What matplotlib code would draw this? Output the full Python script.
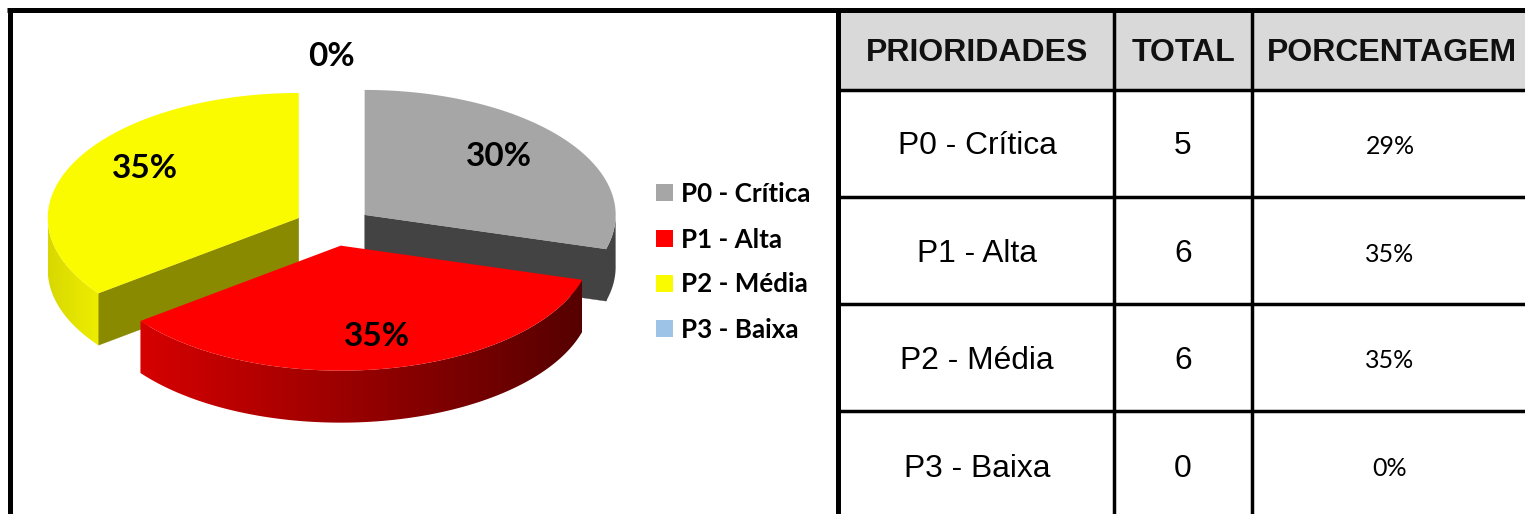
import numpy as np
import matplotlib
matplotlib.use("Agg")
import matplotlib.pyplot as plt
from matplotlib.colors import to_rgb
from matplotlib.patches import Polygon, Rectangle

priorities = ["P0 - Crítica", "P1 - Alta", "P2 - Média", "P3 - Baixa"]
totals = [5, 6, 6, 0]
chart_labels = ["30%", "35%", "35%", "0%"]
table_pct = ["29%", "35%", "35%", "0%"]
colors = ["#a6a6a6", "#ff0000", "#fbfb00", "#9dc3e6"]
face_colors = ["#434343", "#5a0000", "#8a8a00", "#9dc3e6"]
rim_left = ["#434343", "#d60000", "#d8d800", "#9dc3e6"]
rim_right = ["#434343", "#560000", "#eeee00", "#9dc3e6"]
headers = ["PRIORIDADES", "TOTAL", "PORCENTAGEM"]

W, H = 1525, 514
CX, CY, RX, RY, DEPTH, EXPLODE = 333.6, 226.6, 251, 125, 52, 0.155
LABEL_POS = [(499, 157), (377, 337), (145, 169), (331, 57)]

fig = plt.figure(figsize=(W / 100, H / 100), dpi=100, facecolor="white")
ax = fig.add_axes([0, 0, 1, 1])


def pt(cx, cy, deg):
    t = np.radians(deg)
    return cx + RX * np.sin(t), cy - RY * np.cos(t)


angles = 360 * np.cumsum([0] + totals) / sum(totals)
for i in [0, 2, 1]:
    a0, a1 = angles[i], angles[i + 1]
    mid = np.radians((a0 + a1) / 2)
    cx = CX + EXPLODE * RX * np.sin(mid)
    cy = CY - EXPLODE * RY * np.cos(mid)
    # only the cut faces turned towards the viewer are drawn
    visible = []
    if np.sin(np.radians(a1)) > 1e-6:
        visible.append(a1)
    if np.sin(np.radians(a0)) < -1e-6:
        visible.append(a0)
    for d in visible:
        p = pt(cx, cy, d)
        ax.add_patch(Polygon([(cx, cy), p, (p[0], p[1] + DEPTH), (cx, cy + DEPTH)],
                             closed=True, fc=face_colors[i], ec=face_colors[i], lw=0.2, zorder=2))
        ax.plot([p[0], p[0]], [p[1] + 1, p[1] + DEPTH - 1], color=face_colors[i], lw=0.8,
                solid_capstyle="butt", zorder=2)
    th = np.linspace(a0, a1, 240)
    arc = np.array([pt(cx, cy, d) for d in th])
    front = np.array([pt(cx, cy, d) for d in th if np.cos(np.radians(d)) <= 0.02])
    xmin, xmax = front[:, 0].min(), front[:, 0].max()
    rim = Polygon(np.vstack([front, front[::-1] + [0, DEPTH]]), closed=True,
                  transform=ax.transData, fc="none", ec="none")
    ax.add_patch(rim)
    c0, c1 = np.array(to_rgb(rim_left[i])), np.array(to_rgb(rim_right[i]))
    ramp = (c0 + (c1 - c0) * np.linspace(0, 1, 256)[:, None])[None, :, :]
    im = ax.imshow(ramp, extent=(xmin, xmax, H, 0), aspect="auto", interpolation="bilinear", zorder=3)
    im.set_clip_path(rim)
    ax.add_patch(Polygon(np.vstack([[cx, cy], arc]), closed=True, fc=colors[i], ec="none", zorder=4))

ax.set_xlim(0, W)
ax.set_ylim(H, 0)
ax.axis("off")

for lab, (x, y) in zip(chart_labels, LABEL_POS):
    ax.text(x, y, lab, family="Lato", weight="bold", fontsize=24, ha="center", va="center", zorder=6)

for i, (name, y) in enumerate(zip(priorities, [192.5, 238.5, 283.5, 328.5])):
    ax.add_patch(Rectangle((656, y - 8.5), 17, 17, fc=colors[i], ec="none"))
    ax.text(681, y + 1, name, family="Lato", weight="bold", fontsize=18.7, ha="left", va="center")

# table
col_x = [838, 1114, 1252, W]
row_y = [10, 90, 197, 304, 411, H]
ax.add_patch(Rectangle((col_x[0], row_y[0]), W - col_x[0], row_y[1] - row_y[0], fc="#d9d9d9", ec="none", zorder=1))
ax.plot([7, W], [10.4, 10.4], color="k", lw=3.6, solid_capstyle="butt", zorder=8)
ax.plot([9.5, 9.5], [8, H], color="k", lw=3.6, solid_capstyle="butt", zorder=8)
ax.plot([838, 838], [8, H], color="k", lw=3.6, solid_capstyle="butt", zorder=8)
for x in col_x[1:3]:
    ax.plot([x, x], [10, H], color="k", lw=2.5, solid_capstyle="butt", zorder=8)
for y in row_y[1:5]:
    ax.plot([838, W], [y, y], color="k", lw=2.5, solid_capstyle="butt", zorder=8)

for h, x in zip(headers, [977, 1184, 1392]):
    ax.text(x, 53, h, family="Liberation Sans", weight="bold", fontsize=23, ha="center", va="center", color="#111111", zorder=9)
for i, y in enumerate([146, 254, 361, 469]):
    ax.text(977, y, priorities[i], family="Liberation Sans", fontsize=22.9, ha="center", va="center", zorder=9)
    ax.text(1183, y, str(totals[i]), family="Liberation Sans", fontsize=22.9, ha="center", va="center", zorder=9)
    ax.text(1390, y, table_pct[i], family="Lato", fontsize=18, ha="center", va="center", zorder=9)

fig.savefig("out.png", dpi=100)
